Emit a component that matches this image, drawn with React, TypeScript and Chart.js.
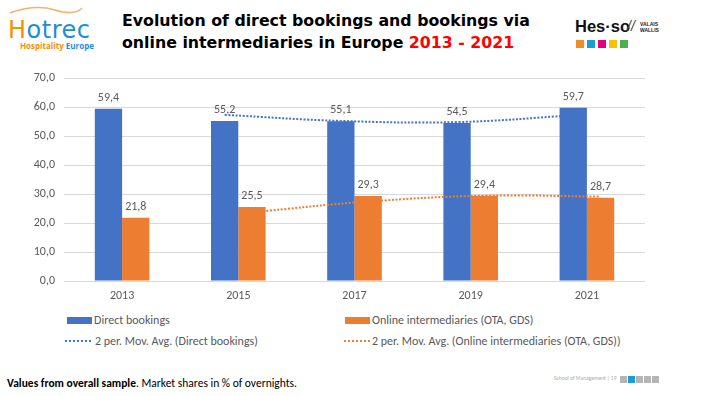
import React, { useEffect, useRef } from "react";
import { Chart, registerables } from "chart.js";

Chart.register(...registerables);

const years = ["2013", "2015", "2017", "2019", "2021"];
const directBookings = [59.4, 55.2, 55.1, 54.5, 59.7];
const onlineIntermediaries = [21.8, 25.5, 29.3, 29.4, 28.7];
const maDirect = [null, 57.3, 55.2, 54.8, 57.1];
const maOnline = [null, 23.7, 27.4, 29.4, 29.1];
const yTicks = [0, 10, 20, 30, 40, 50, 60, 70];

const BLUE = "#4472C4";
const ORANGE = "#ED7D31";
const GRAY = "#595959";
const CAT_PCT = 0.47;
const FONT = "Carlito, Lato, 'Liberation Sans', sans-serif";

const fmt = (v: number) => v.toFixed(1).replace(".", ",");

// Moving-average trend lines, drawn through each bar dataset's own bar centres
const trendSeries = [
  { barIndex: 0, values: maDirect, color: BLUE },
  { barIndex: 1, values: maOnline, color: ORANGE },
];

function drawSmooth(ctx: CanvasRenderingContext2D, pts: { x: number; y: number }[], t: number) {
  if (pts.length < 2) return;
  ctx.beginPath();
  ctx.moveTo(pts[0].x, pts[0].y);
  const cps = pts.map((p, i) => {
    const prev = pts[i - 1] || p;
    const next = pts[i + 1] || p;
    const d01 = Math.hypot(p.x - prev.x, p.y - prev.y);
    const d12 = Math.hypot(next.x - p.x, next.y - p.y);
    const sum = d01 + d12 || 1;
    const fa = (t * d01) / sum;
    const fb = (t * d12) / sum;
    return {
      prev: { x: p.x - fa * (next.x - prev.x), y: p.y - fa * (next.y - prev.y) },
      next: { x: p.x + fb * (next.x - prev.x), y: p.y + fb * (next.y - prev.y) },
    };
  });
  for (let i = 1; i < pts.length; i++) {
    const c1 = cps[i - 1].next;
    const c2 = cps[i].prev;
    ctx.bezierCurveTo(c1.x, c1.y, c2.x, c2.y, pts[i].x, pts[i].y);
  }
  ctx.stroke();
}

const trendPlugin = {
  id: "movingAverage",
  afterDatasetsDraw(chart: any) {
    const ctx = chart.ctx;
    const yScale = chart.scales.y;
    ctx.save();
    ctx.lineWidth = 2;
    ctx.setLineDash([2, 1.6]);
    ctx.lineCap = "butt";
    trendSeries.forEach((s) => {
      const meta = chart.getDatasetMeta(s.barIndex);
      const pts: { x: number; y: number }[] = [];
      s.values.forEach((v, i) => {
        if (v == null) return;
        pts.push({ x: meta.data[i].x, y: yScale.getPixelForValue(v) });
      });
      ctx.strokeStyle = s.color;
      drawSmooth(ctx, pts, 0.4);
    });
    ctx.restore();
  },
};

const labelPlugin = {
  id: "barLabels",
  afterDatasetsDraw(chart: any) {
    const ctx = chart.ctx;
    ctx.save();
    ctx.fillStyle = GRAY;
    ctx.font = `12px ${FONT}`;
    ctx.textAlign = "center";
    ctx.textBaseline = "middle";
    chart.data.datasets.forEach((ds: any, di: number) => {
      const meta = chart.getDatasetMeta(di);
      meta.data.forEach((el: any, i: number) => {
        ctx.fillText(fmt(ds.data[i]), el.x, el.y - 11);
      });
    });
    ctx.restore();
  },
};

function ChartCanvas() {
  const ref = useRef<HTMLCanvasElement>(null);
  useEffect(() => {
    const chart = new Chart(ref.current!, {
      type: "bar",
      data: {
        labels: years,
        datasets: [
          {
            label: "Direct bookings",
            data: directBookings,
            backgroundColor: BLUE,
            categoryPercentage: CAT_PCT,
            barPercentage: 1,
          },
          {
            label: "Online intermediaries (OTA, GDS)",
            data: onlineIntermediaries,
            backgroundColor: ORANGE,
            categoryPercentage: CAT_PCT,
            barPercentage: 1,
          },
        ],
      },
      options: {
        animation: false,
        responsive: false,
        maintainAspectRatio: false,
        layout: { padding: { left: 0, right: 61, top: 18, bottom: 0 } },
        plugins: {
          legend: { display: false },
          tooltip: { enabled: false },
        },
        scales: {
          x: {
            type: "category",
            offset: true,
            grid: { display: false, drawTicks: false },
            border: { display: false },
            ticks: { color: GRAY, font: { family: FONT, size: 12 }, padding: 8 },
            afterFit: (s: any) => {
              s.height = 29;
            },
          },
          y: {
            min: 0,
            max: 70,
            afterBuildTicks: (s: any) => {
              s.ticks = yTicks.map((v) => ({ value: v }));
            },
            grid: { color: "#d9d9d9", lineWidth: 1, drawTicks: false },
            border: { display: false },
            ticks: {
              color: GRAY,
              font: { family: FONT, size: 12 },
              padding: 9,
              callback: (v: any) => fmt(Number(v)),
            },
            afterFit: (s: any) => {
              s.width = 64;
            },
          },
        },
      } as any,
      plugins: [trendPlugin, labelPlugin],
    } as any);
    return () => chart.destroy();
  }, []);
  return (
    <canvas
      ref={ref}
      width={706}
      height={250}
      style={{ position: "absolute", left: 0, top: 60, width: 706, height: 250 }}
    />
  );
}

const legendText: React.CSSProperties = {
  position: "absolute",
  fontFamily: FONT,
  fontSize: 12,
  color: GRAY,
  whiteSpace: "nowrap",
  lineHeight: "14px",
};

function LegendSwatch({ x, y, color }: { x: number; y: number; color: string }) {
  return (
    <div
      style={{ position: "absolute", left: x, top: y - 3.5, width: 25, height: 7, background: color }}
    />
  );
}

function LegendDots({ x, y, color }: { x: number; y: number; color: string }) {
  return (
    <div
      style={{
        position: "absolute",
        left: x,
        top: y - 1,
        width: 26,
        height: 2,
        backgroundImage: `repeating-linear-gradient(to right, ${color} 0 2px, transparent 2px 4px)`,
      }}
    />
  );
}

export default function App() {
  useEffect(() => {
    document.body.style.margin = "0";
  }, []);
  const squares = ["#F28C28", "#1E9CD7", "#E6007E", "#F5C400", "#4CAF50"];
  const graySq = ["#b5b5b5", "#1E9CD7", "#b5b5b5", "#b5b5b5", "#b5b5b5"];
  return (
    <div
      style={{
        position: "relative",
        width: 706,
        height: 396,
        background: "#fff",
        overflow: "hidden",
        margin: 0,
      }}
    >
      {/* Hotrec logo */}
      <svg style={{ position: "absolute", left: 0, top: 0 }} width={110} height={20}>
        <path d="M10 13 Q 35 4, 55 10 T 82 8" stroke="#F6B26B" strokeWidth={1.5} fill="none" />
      </svg>
      <div
        style={{
          position: "absolute",
          left: 8,
          top: 18,
          fontFamily: "'DejaVu Sans', sans-serif",
          fontSize: 24,
          letterSpacing: 0.5,
          lineHeight: "24px",
          whiteSpace: "nowrap",
        }}
      >
        <span style={{ color: "#F39200" }}>H</span>
        <span style={{ color: "#1F8DD6" }}>otrec</span>
      </div>
      <div
        style={{
          position: "absolute",
          left: 20,
          top: 41,
          fontFamily: "'Open Sans', sans-serif",
          fontWeight: 700,
          fontSize: 8,
          lineHeight: "10px",
          whiteSpace: "nowrap",
        }}
      >
        <span style={{ color: "#F39200" }}>Hospitality </span>
        <span style={{ color: "#1F8DD6" }}>Europe</span>
      </div>

      {/* Title */}
      <div
        style={{
          position: "absolute",
          left: 122,
          top: 10,
          fontFamily: "'DejaVu Sans', Verdana, sans-serif",
          fontWeight: 700,
          fontSize: 15.8,
          lineHeight: "22px",
          color: "#000",
          whiteSpace: "nowrap",
        }}
      >
        <div>Evolution of direct bookings and bookings via</div>
        <div>
          online intermediaries in Europe <span style={{ color: "#FF0000" }}>2013 - 2021</span>
        </div>
      </div>

      {/* HES-SO logo */}
      <div
        style={{
          position: "absolute",
          left: 575,
          top: 18,
          fontFamily: "'Liberation Sans', Arial, sans-serif",
          fontWeight: 700,
          fontSize: 16.5,
          lineHeight: "16px",
          color: "#111",
          whiteSpace: "nowrap",
        }}
      >
        Hes·so
      </div>
      <div
        style={{
          position: "absolute",
          left: 627,
          top: 19,
          fontFamily: "'Liberation Sans', Arial, sans-serif",
          fontSize: 14,
          lineHeight: "14px",
          color: "#444",
          fontStyle: "italic",
        }}
      >
        //
      </div>
      <div
        style={{
          position: "absolute",
          left: 640,
          top: 22,
          fontFamily: "'Liberation Sans', Arial, sans-serif",
          fontWeight: 700,
          fontSize: 5,
          lineHeight: "5.5px",
          color: "#222",
        }}
      >
        VALAIS
        <br />
        WALLIS
      </div>
      {squares.map((c, i) => (
        <div
          key={c}
          style={{ position: "absolute", left: 576 + i * 11, top: 40, width: 8, height: 8, background: c }}
        />
      ))}

      <ChartCanvas />

      {/* Legend */}
      <LegendSwatch x={67} y={320} color={BLUE} />
      <div style={{ ...legendText, left: 94, top: 313 }}>Direct bookings</div>
      <LegendSwatch x={345} y={320} color={ORANGE} />
      <div style={{ ...legendText, left: 372, top: 313 }}>Online intermediaries (OTA, GDS)</div>
      <LegendDots x={65} y={341} color={BLUE} />
      <div style={{ ...legendText, left: 95, top: 334 }}>2 per. Mov. Avg. (Direct bookings)</div>
      <LegendDots x={344} y={341} color={ORANGE} />
      <div style={{ ...legendText, left: 372, top: 334 }}>
        2 per. Mov. Avg. (Online intermediaries (OTA, GDS))
      </div>

      {/* Footer */}
      <div
        style={{
          position: "absolute",
          left: 7,
          top: 377,
          fontFamily: FONT,
          fontSize: 11.5,
          lineHeight: "13px",
          color: "#000",
          whiteSpace: "nowrap",
        }}
      >
        <b>Values from overall sample</b>. Market shares in % of overnights.
      </div>
      <div
        style={{
          position: "absolute",
          left: 554,
          top: 375,
          fontFamily: FONT,
          fontSize: 5.5,
          lineHeight: "7px",
          color: "#aaa",
          whiteSpace: "nowrap",
        }}
      >
        School of Management | 19
      </div>
      {graySq.map((c, i) => (
        <div
          key={i}
          style={{ position: "absolute", left: 620 + i * 8, top: 376, width: 6.5, height: 6.5, background: c }}
        />
      ))}
    </div>
  );
}
